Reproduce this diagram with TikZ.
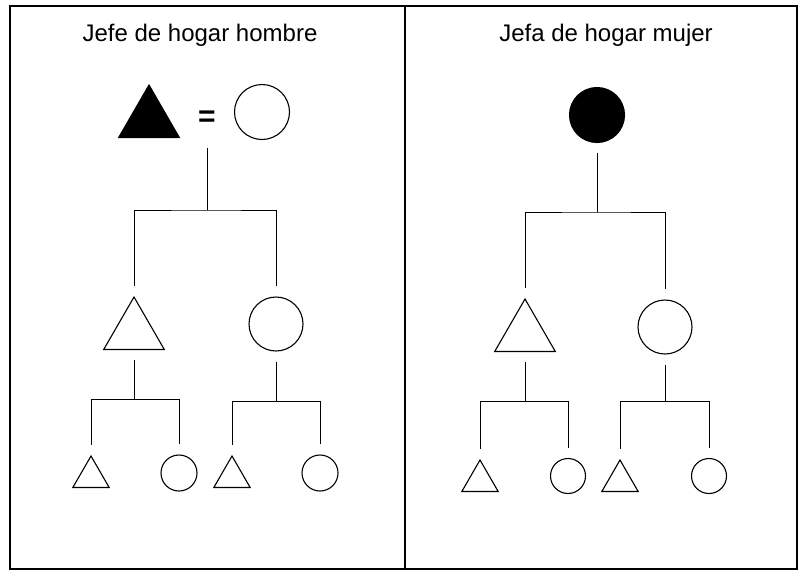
\documentclass[tikz,border=0pt]{standalone}
\usepackage{fontspec}
\setmainfont{Liberation Sans}
\usetikzlibrary{shapes.geometric}

\tikzset{
  male/.style={draw, regular polygon, regular polygon sides=3, inner sep=0pt, line width=1.1pt},
  female/.style={draw, circle, inner sep=0pt, line width=1.1pt},
  kin/.style={line width=0.8pt, shorten <=10pt, shorten >=10pt},
  title/.style={font=\fontsize{24}{28}\selectfont, anchor=base}
}

\begin{document}
\begin{tikzpicture}[x=1pt, y=-1pt]
        \useasboundingbox (0,0) rectangle (799,574);

        % frame and divider
        \draw[line width=1.6pt] (10,6) rectangle (797,569);
        \draw[line width=1.6pt] (405,6) -- (405,569);

        % Left panel: male head of household
        \node[title] (tl) at (200,41) {Jefe de hogar hombre};
        \node[male, fill=black, minimum size=70pt] (hl) at (149,120) {};
        \node[font=\fontsize{30}{34}\selectfont\bfseries, inner sep=0pt] (eq) at (207,119) {=};
        \node[female, minimum size=55pt] (hw) at (262,112) {};
        \coordinate (j0) at (207,210);

        \node[male, minimum size=70pt] (sl) at (134,332) {};
        \node[female, minimum size=54pt] (dl) at (276,324) {};
        \coordinate (j1) at (134,399);
        \coordinate (j2) at (276,401);

        \node[male, minimum size=42pt] (gl1) at (91,477) {};
        \node[female, minimum size=36pt] (gl2) at (179,473) {};
        \node[male, minimum size=42pt] (gl3) at (232,477) {};
        \node[female, minimum size=36pt] (gl4) at (320,473) {};

        \draw[kin, shorten <=29pt, shorten >=0pt] (eq.center) -- (j0);
        \draw[kin] (sl.north) |- (j0) -| (dl.north);
        \draw[kin, shorten >=0pt] (sl.south) -- (j1);
        \draw[kin] (gl1.north) |- (j1) -| (gl2.north);
        \draw[kin, shorten >=0pt] (dl.south) -- (j2);
        \draw[kin] (gl3.north) |- (j2) -| (gl4.north);

        % Right panel: female head of household
        \node[title] (tr) at (606,41) {Jefa de hogar mujer};
        \node[female, fill=black, minimum size=55pt] (hr) at (597,115) {};
        \coordinate (j3) at (597,212);

        \node[male, minimum size=70pt] (sr) at (525,334) {};
        \node[female, minimum size=54pt] (dr) at (665,327) {};
        \coordinate (j4) at (525,401);
        \coordinate (j5) at (665,401);

        \node[male, minimum size=42pt] (gr1) at (480,481) {};
        \node[female, minimum size=35pt] (gr2) at (568,476) {};
        \node[male, minimum size=42pt] (gr3) at (620,481) {};
        \node[female, minimum size=35pt] (gr4) at (709,476) {};

        \draw[kin, shorten >=0pt] (hr.south) -- (j3);
        \draw[kin] (sr.north) |- (j3) -| (dr.north);
        \draw[kin, shorten >=0pt] (sr.south) -- (j4);
        \draw[kin] (gr1.north) |- (j4) -| (gr2.north);
        \draw[kin, shorten >=0pt] (dr.south) -- (j5);
        \draw[kin] (gr3.north) |- (j5) -| (gr4.north);
\end{tikzpicture}
\end{document}
